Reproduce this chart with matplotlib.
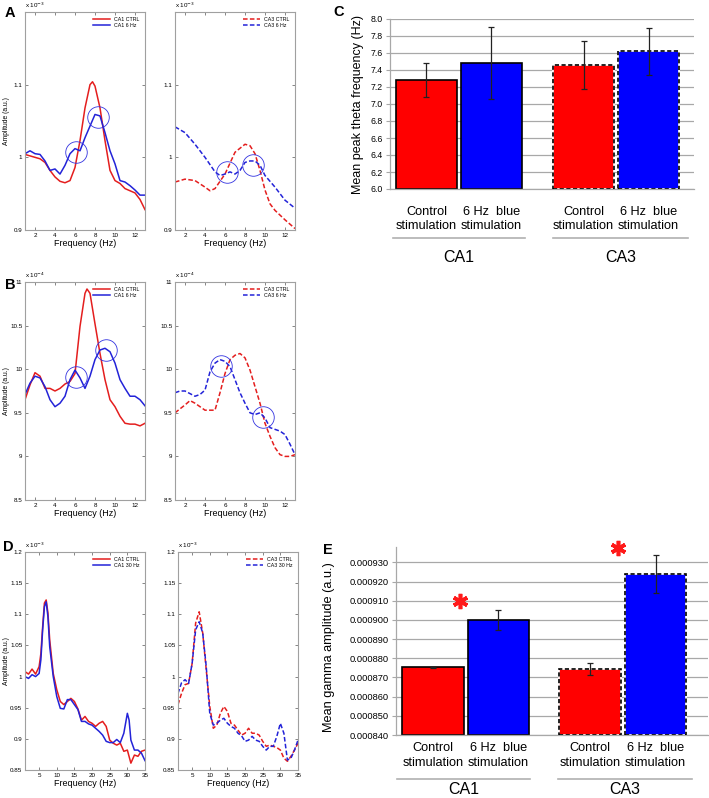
import numpy as np
import matplotlib
matplotlib.use('Agg')
import matplotlib.pyplot as plt
from matplotlib.lines import Line2D

plt.rcParams['font.family'] = ['Liberation Sans', 'DejaVu Sans']

W, H = 709, 798
RED = '#e41e1e'
BLUE = '#2323d8'
FRAME = '#a0a0a0'

# ---- A: theta spectra (x 1e-3) ----
a_ca1_ctrl_x = [1, 1.5, 2, 2.5, 3, 3.5, 4, 4.5, 5, 5.5, 6, 6.5, 7, 7.5, 7.75, 8, 8.5, 9, 9.5, 10, 10.5, 11, 11.5, 12, 12.5, 13]
a_ca1_ctrl = [1.004, 1.002, 1.0, 0.998, 0.993, 0.982, 0.973, 0.967, 0.965, 0.968, 0.986, 1.023, 1.068, 1.100, 1.104,
              1.098, 1.068, 1.023, 0.982, 0.968, 0.964, 0.957, 0.954, 0.951, 0.942, 0.928]
a_ca1_6hz_x = [1, 1.5, 2, 2.5, 3, 3.5, 4, 4.5, 5, 5.5, 6, 6.5, 7, 7.5, 8, 8.5, 9, 9.5, 10, 10.5, 11, 11.5, 12, 12.5, 13]
a_ca1_6hz = [1.005, 1.009, 1.005, 1.004, 0.995, 0.982, 0.984, 0.977, 0.989, 1.005, 1.012, 1.009, 1.027, 1.043, 1.059,
             1.057, 1.034, 1.009, 0.991, 0.968, 0.966, 0.961, 0.955, 0.948, 0.948]
a_ca3_ctrl_x = [1, 2, 3, 4, 4.5, 5, 6, 7, 8, 8.5, 9, 9.5, 10, 10.5, 11, 12, 13]
a_ca3_ctrl = [0.966, 0.970, 0.968, 0.959, 0.954, 0.957, 0.977, 1.007, 1.018, 1.016, 1.005, 0.982, 0.955, 0.936, 0.927,
              0.914, 0.902]
a_ca3_6hz_x = [1, 2, 3, 4, 5, 5.5, 6, 6.5, 7, 7.5, 8, 8.5, 9, 9.5, 10, 11, 12, 13]
a_ca3_6hz = [1.042, 1.034, 1.018, 1.0, 0.980, 0.975, 0.977, 0.980, 0.977, 0.982, 0.993, 0.995, 0.995, 0.989, 0.975,
             0.959, 0.941, 0.930]
a_circles_left = [(6.07, 1.007), (8.33, 1.056)]
a_circles_right = [(6.17, 0.9795), (8.77, 0.990)]

# ---- B: theta spectra (x 1e-4) ----
b_ca1_ctrl_x = [1, 1.5, 2, 2.5, 3, 3.5, 4, 4.5, 5, 5.5, 6, 6.5, 7, 7.2, 7.5, 8, 8.5, 9, 9.5, 10, 10.5, 11, 11.5, 12, 12.5, 13]
b_ca1_ctrl = [9.65, 9.82, 9.96, 9.92, 9.78, 9.78, 9.75, 9.78, 9.83, 9.86, 9.95, 10.49, 10.87, 10.92, 10.87, 10.52,
              10.18, 9.88, 9.65, 9.57, 9.46, 9.38, 9.37, 9.37, 9.35, 9.38]
b_ca1_6hz_x = [1, 1.5, 2, 2.5, 3, 3.5, 4, 4.5, 5, 5.5, 6, 6.5, 7, 7.5, 8, 8.5, 9, 9.5, 10, 10.5, 11, 11.5, 12, 12.5, 13]
b_ca1_6hz = [9.71, 9.84, 9.92, 9.90, 9.80, 9.65, 9.57, 9.61, 9.69, 9.88, 9.99, 9.90, 9.78, 9.92, 10.11, 10.22, 10.24,
             10.20, 10.07, 9.88, 9.78, 9.69, 9.69, 9.65, 9.58]
b_ca3_ctrl_x = [1, 2, 2.5, 3, 4, 5, 5.5, 6, 6.5, 7, 7.5, 8, 8.5, 9, 9.5, 10, 10.5, 11, 11.5, 12, 12.5, 13]
b_ca3_ctrl = [9.50, 9.59, 9.64, 9.61, 9.53, 9.53, 9.73, 9.95, 10.11, 10.16, 10.18, 10.13, 9.99, 9.80, 9.61, 9.38, 9.23,
              9.10, 9.02, 9.00, 9.00, 9.02]
b_ca3_6hz_x = [1, 1.5, 2, 2.5, 3, 3.5, 4, 4.5, 5, 5.5, 6, 6.5, 7, 7.5, 8, 8.5, 9, 9.5, 10, 10.5, 11, 11.5, 12, 12.5, 13]
b_ca3_6hz = [9.73, 9.75, 9.75, 9.72, 9.69, 9.71, 9.76, 9.97, 10.07, 10.11, 10.09, 10.03, 9.88, 9.73, 9.61, 9.50, 9.48,
             9.50, 9.44, 9.33, 9.31, 9.29, 9.25, 9.14, 9.02]
b_circles_left = [(6.07, 9.914), (9.07, 10.22)]
b_circles_right = [(5.57, 10.04), (9.77, 9.455)]

# ---- D: gamma spectra (x 1e-3) ----
d_x_left = [1, 2, 3, 4, 5, 5.5, 6, 6.5, 7, 7.5, 8, 9, 10, 11, 12, 13, 14, 15, 16, 17, 18, 19, 20, 21, 22, 23, 24, 25,
            26, 27, 28, 29, 30, 31, 32, 33, 34, 35]
d_ca1_ctrl = [1.008, 1.004, 1.012, 1.004, 1.016, 1.037, 1.080, 1.118, 1.123, 1.102, 1.059, 1.005, 0.979, 0.960, 0.955,
              0.960, 0.965, 0.960, 0.948, 0.930, 0.936, 0.928, 0.925, 0.920, 0.925, 0.928, 0.920, 0.898, 0.893, 0.890,
              0.893, 0.880, 0.882, 0.861, 0.874, 0.872, 0.880, 0.882]
d_x_left_30 = [1, 2, 3, 4, 5, 5.5, 6, 6.5, 7, 7.5, 8, 9, 10, 11, 12, 13, 14, 15, 16, 17, 18, 19, 20, 21, 22, 23, 24,
               25, 26, 27, 28, 29, 30, 30.5, 31, 32, 33, 34, 35]
d_ca1_30hz = [1.0, 0.997, 1.003, 1.0, 1.005, 1.027, 1.075, 1.112, 1.120, 1.096, 1.048, 1.0, 0.968, 0.949, 0.948, 0.963,
              0.963, 0.955, 0.947, 0.928, 0.928, 0.924, 0.922, 0.917, 0.912, 0.906, 0.896, 0.894, 0.894, 0.899, 0.894,
              0.909, 0.941, 0.930, 0.898, 0.882, 0.882, 0.877, 0.865]
d_x_right = [1, 2, 3, 4, 5, 6, 7, 8, 9, 10, 11, 12, 13, 14, 15, 16, 17, 18, 19, 20, 21, 22, 23, 24, 25, 26, 27, 28,
             29, 30, 31, 32, 33, 34, 35]
d_ca3_ctrl = [0.955, 0.973, 0.987, 0.989, 1.021, 1.086, 1.104, 1.070, 1.011, 0.952, 0.917, 0.922, 0.941, 0.952, 0.944,
              0.925, 0.922, 0.914, 0.906, 0.909, 0.917, 0.909, 0.909, 0.906, 0.896, 0.888, 0.890, 0.888, 0.886, 0.882,
              0.869, 0.864, 0.872, 0.882, 0.893]
d_ca3_30hz = [0.973, 0.990, 0.995, 0.989, 1.021, 1.075, 1.088, 1.070, 1.016, 0.941, 0.922, 0.925, 0.930, 0.933, 0.925,
              0.920, 0.917, 0.909, 0.905, 0.896, 0.898, 0.904, 0.898, 0.896, 0.888, 0.882, 0.888, 0.888, 0.904, 0.925,
              0.909, 0.866, 0.869, 0.882, 0.898]

# ---- C / E: bar charts ----
bar_labels = ['Control\nstimulation', '6 Hz  blue\nstimulation', 'Control\nstimulation', '6 Hz  blue\nstimulation']
groups = ['CA1', 'CA3']
bar_colors = ['#ff0000', '#0000ff', '#ff0000', '#0000ff']
theta_peak = [7.28, 7.485, 7.46, 7.62]
theta_err = [0.20, 0.425, 0.285, 0.275]
gamma_amp = [0.0008753, 0.0009000, 0.0008745, 0.0009240]
gamma_err = [0.0000004, 0.0000052, 0.0000031, 0.0000100]
gamma_star_x = [0.41, 2.82]
gamma_star_y = [0.000910, 0.0009376]

fig = plt.figure(figsize=(W / 100, H / 100), dpi=100)


def px_axes(x0, y0, x1, y1):
    return fig.add_axes([x0 / W, 1 - y1 / H, (x1 - x0) / W, (y1 - y0) / H])


def fig_text(x, y, s, **kw):
    fig.text(x / W, 1 - y / H, s, **kw)


def spectrum_axes(x0, y0, ylim, yticks, xticks, xlim, exp, ytick_fmt):
    ax = px_axes(x0, y0, x0 + 120, y0 + 218)
    ax.set_xlim(*xlim)
    ax.set_ylim(*ylim)
    ax.set_xticks(xticks)
    ax.set_yticks(yticks)
    ax.set_yticklabels([ytick_fmt(v) for v in yticks])
    for s in ax.spines.values():
        s.set_color(FRAME)
        s.set_linewidth(0.8)
    ax.tick_params(direction='in', length=2, width=0.5, color='#555555', top=True, right=True,
                   labelsize=4.5, pad=2)
    ax.text(0, 1.008, r'x 10$^{%d}$' % exp, transform=ax.transAxes, fontsize=4.5, va='bottom')
    ax.set_xlabel('Frequency (Hz)', fontsize=6.5, labelpad=1)
    return ax


def add_circles(ax, pts):
    for cx, cy in pts:
        ax.plot([cx], [cy], marker='o', ms=15.5, mfc='none', mec='#3333e0', mew=0.6, zorder=5)


def add_legend(ax):
    ax.legend(loc='upper right', fontsize=3.8, frameon=False, handlelength=3.2, borderaxespad=0.6, labelspacing=0.2)


fmt_a = lambda v: ('%g' % v)
theta_xticks = [2, 4, 6, 8, 10, 12]
dash = (0, (3, 1.5))

# A
ax = spectrum_axes(25, 12, (0.9, 1.2), [0.9, 1.0, 1.1], theta_xticks, (1, 13), -3, fmt_a)
ax.plot(a_ca1_ctrl_x, a_ca1_ctrl, color=RED, lw=1.1, label='CA1 CTRL')
ax.plot(a_ca1_6hz_x, a_ca1_6hz, color=BLUE, lw=1.1, label='CA1 6 Hz')
add_circles(ax, a_circles_left)
add_legend(ax)
ax = spectrum_axes(175, 12, (0.9, 1.2), [0.9, 1.0, 1.1], theta_xticks, (1, 13), -3, fmt_a)
ax.plot(a_ca3_ctrl_x, a_ca3_ctrl, color=RED, lw=1.1, ls=dash, label='CA3 CTRL')
ax.plot(a_ca3_6hz_x, a_ca3_6hz, color=BLUE, lw=1.1, ls=dash, label='CA3 6 Hz')
add_circles(ax, a_circles_right)
add_legend(ax)

# B
b_yticks = [8.5, 9, 9.5, 10, 10.5, 11]
ax = spectrum_axes(25, 282, (8.5, 11), b_yticks, theta_xticks, (1, 13), -4, fmt_a)
ax.plot(b_ca1_ctrl_x, b_ca1_ctrl, color=RED, lw=1.1, label='CA1 CTRL')
ax.plot(b_ca1_6hz_x, b_ca1_6hz, color=BLUE, lw=1.1, label='CA1 6 Hz')
add_circles(ax, b_circles_left)
add_legend(ax)
ax = spectrum_axes(175, 282, (8.5, 11), b_yticks, theta_xticks, (1, 13), -4, fmt_a)
ax.plot(b_ca3_ctrl_x, b_ca3_ctrl, color=RED, lw=1.1, ls=dash, label='CA3 CTRL')
ax.plot(b_ca3_6hz_x, b_ca3_6hz, color=BLUE, lw=1.1, ls=dash, label='CA3 6 Hz')
add_circles(ax, b_circles_right)
add_legend(ax)

# D
d_yticks = [0.85, 0.9, 0.95, 1.0, 1.05, 1.1, 1.15, 1.2]
d_xticks = [5, 10, 15, 20, 25, 30, 35]
ax = spectrum_axes(25, 552, (0.85, 1.2), d_yticks, d_xticks, (1, 35), -3, fmt_a)
ax.plot(d_x_left, d_ca1_ctrl, color=RED, lw=1.1, label='CA1 CTRL')
ax.plot(d_x_left_30, d_ca1_30hz, color=BLUE, lw=1.1, label='CA1 30 Hz')
add_legend(ax)
ax = spectrum_axes(178, 552, (0.85, 1.2), d_yticks, d_xticks, (1, 35), -3, fmt_a)
ax.plot(d_x_right, d_ca3_ctrl, color=RED, lw=1.1, ls=dash, label='CA3 CTRL')
ax.plot(d_x_right, d_ca3_30hz, color=BLUE, lw=1.1, ls=dash, label='CA3 30 Hz')
add_legend(ax)

for yc in [121, 391, 661]:
    fig_text(7, yc, 'Amplitude (a.u.)', rotation=90, fontsize=4.9, ha='center', va='center')


def bar_panel(ax, pos, vals, errs, base, yticks, fmt, tick_size):
    heights = np.array(vals) - base
    for i in range(len(vals)):
        if i < 2:
            ax.bar(pos[i], heights[i], bottom=base, width=0.94, color=bar_colors[i], edgecolor='black',
                   linewidth=1.2, zorder=2)
        else:
            # CA3 bars: dashed black outline on white
            ax.bar(pos[i], heights[i], bottom=base, width=0.94, color=bar_colors[i], edgecolor='white',
                   linewidth=1.2, zorder=2)
            ax.bar(pos[i], heights[i], bottom=base, width=0.94, fill=False, edgecolor='black',
                   linewidth=1.2, linestyle=(0, (2.5, 1.5)), zorder=3)
    ax.errorbar(pos, vals, yerr=errs, fmt='none', ecolor='#222222', elinewidth=0.9, capsize=2.5,
                capthick=0.9, zorder=4)
    ax.set_yticks(yticks)
    ax.set_yticklabels([fmt % v for v in yticks])
    ax.yaxis.grid(True, color='#a8a8a8', lw=0.9)
    ax.set_axisbelow(True)
    for s in ['top', 'right']:
        ax.spines[s].set_visible(False)
    for s in ['left', 'bottom']:
        ax.spines[s].set_color('#a8a8a8')
        ax.spines[s].set_linewidth(0.9)
    ax.tick_params(axis='y', length=3, color='#a8a8a8', labelsize=tick_size, pad=2)
    ax.set_xticks(pos)
    ax.set_xticklabels(bar_labels, fontsize=9.2, linespacing=1.3)
    ax.tick_params(axis='x', length=0)


def group_lines(spans, y_line, y_text):
    for (x0, x1), name in zip(spans, groups):
        fig.add_artist(Line2D([x0 / W, x1 / W], [1 - y_line / H, 1 - y_line / H], color='#b0b0b0', lw=1.2,
                              transform=fig.transFigure))
        fig_text((x0 + x1) / 2, y_text, name, fontsize=11.5, ha='center', va='center')


# C
pos_c = [0, 1, 2.42, 3.42]
ax = px_axes(390, 19, 694, 189)
ax.set_xlim(-0.56, 4.12)
ax.set_ylim(6.0, 8.0)
bar_panel(ax, pos_c, theta_peak, theta_err, 6.0, [6.0 + 0.2 * k for k in range(11)], '%.1f', 6.3)
ax.tick_params(axis='x', pad=12)
ax.set_ylabel('Mean peak theta frequency (Hz)', fontsize=9, labelpad=5)
group_lines([(393, 525), (553, 688)], 238, 257)

# E
pos_e = [0, 1, 2.4, 3.4]
ax = px_axes(396, 547, 708, 735)
ax.set_xlim(-0.565, 4.2)
ax.set_ylim(0.00084, 0.000938)
bar_panel(ax, pos_e, gamma_amp, gamma_err, 0.00084, [0.00084 + 0.00001 * k for k in range(10)], '%.6f', 6.7)
ax.tick_params(axis='x', pad=5)
ax.plot(gamma_star_x, gamma_star_y, ls='none', marker=(6, 2, 0), ms=11, mew=2.6, color='#ff1a1a', clip_on=False,
        zorder=6)
ax.set_ylabel('Mean gamma amplitude (a.u.)', fontsize=9.2, labelpad=4)
ax.yaxis.set_label_coords(-0.197, 0.47)
group_lines([(397, 530), (558, 692)], 779, 790)

# panel letters
for lx, ly, s in [(5, 13, 'A'), (5, 285, 'B'), (3, 547, 'D'), (333, 12, 'C'), (328, 550, 'E')]:
    fig_text(lx, ly, s, fontsize=10.5, fontweight='bold', ha='left' if s != 'E' else 'center', va='center')

fig.savefig('out.png', dpi=100)
